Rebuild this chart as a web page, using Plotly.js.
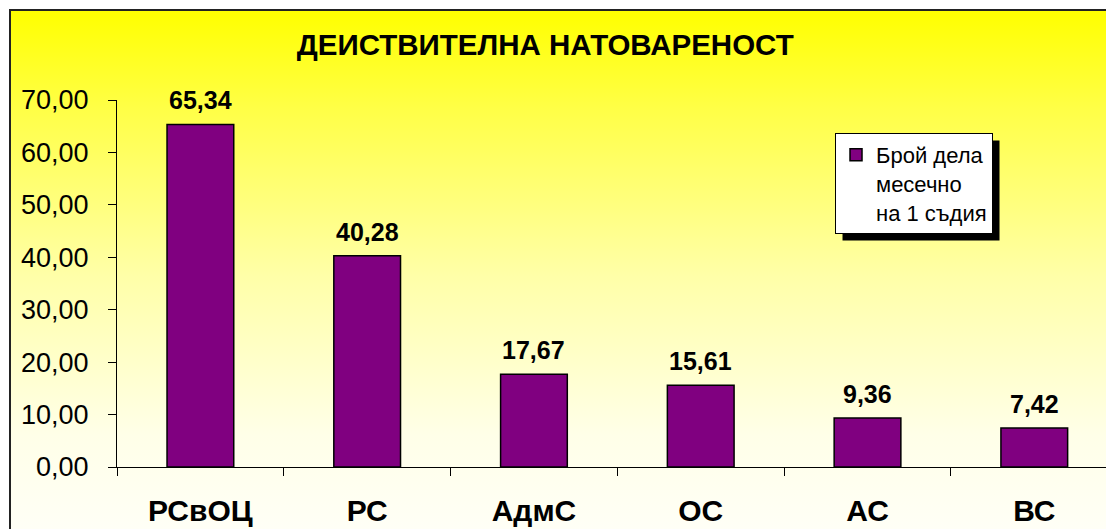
<!DOCTYPE html>
<html><head><meta charset="utf-8">
<script src="https://cdn.plot.ly/plotly-3.0.1.min.js"></script>
<style>
html,body{margin:0;padding:0;background:#fff;width:1106px;height:529px;overflow:hidden}
#bg{position:absolute;left:9px;top:9px;width:1200px;height:530px;border-left:2px solid #222;border-top:2px solid #222;
background:linear-gradient(to bottom,#FFFF00 0%,#FFFF45 18%,#FFFFA8 50%,#FFFFE8 80%,#FFFFF8 100%)}
#chart{position:absolute;left:0;top:0;width:1106px;height:529px}
</style></head>
<body>
<div id="bg"></div>
<div id="chart"></div>
<script>
const categories = ['РСвОЦ','РС','АдмС','ОС','АС','ВС'];
const values = [65.34, 40.28, 17.67, 15.61, 9.36, 7.42];
const seriesName = 'Брой дела<br>месечно<br>на 1 съдия';
const yTickVals = [0,10,20,30,40,50,60,70];
const titleText = 'ДЕИСТВИТЕЛНА НАТОВАРЕНОСТ';

const F = 'Liberation Sans, Arial, sans-serif';

const data = [{
  type:'bar', x:categories, y:values, name:seriesName,
  marker:{color:'#800080', line:{color:'#000', width:1.5}},
  hoverinfo:'skip'
}];

const annotations = categories.map((c,i)=>({
  x:c, y:values[i], xref:'x', yref:'y',
  text: values[i].toFixed(2).replace('.', ','),
  showarrow:false, yanchor:'bottom', yshift:8,
  font:{family:F, size:25, color:'#000', weight:'bold'}
}));

const layout = {
  width:1106, height:529,
  margin:{l:117, r:0, t:100, b:62, pad:0},
  paper_bgcolor:'rgba(0,0,0,0)', plot_bgcolor:'rgba(0,0,0,0)',
  separators:', ',
  title:{text:titleText, x:0.493, xref:'container', xanchor:'center', y:0.915, yref:'container', yanchor:'middle',
         font:{family:F, size:29.5, color:'#000', weight:'bold'}},
  xaxis:{type:'category', range:[-0.5,5.43], showline:true, linecolor:'#000', linewidth:1,
         ticks:'outside', tickson:'boundaries', ticklen:8, tickcolor:'#000',
         tickfont:{family:F, size:30, color:'#000', weight:'bold'}, ticklabelstandoff:17,
         showgrid:false, zeroline:false},
  yaxis:{range:[0,70], tickvals:yTickVals, tickformat:'.2f', showline:true, linecolor:'#000', linewidth:1,
         ticks:'outside', ticklen:8, tickcolor:'#000',
         tickfont:{family:F, size:27, color:'#000'}, ticklabelstandoff:14,
         showgrid:false, zeroline:false},
  bargap:0.6,
  showlegend:true,
  legend:{x:0.726, y:0.91, xanchor:'left', yanchor:'top', valign:'top', bgcolor:'#fff', bordercolor:'#000', borderwidth:1,
          itemwidth:30, font:{family:F, size:22, color:'#000'}},
  annotations:annotations
};

Plotly.newPlot('chart', data, layout, {staticPlot:true}).then(gd=>{
  const bg = gd.querySelector('.legend .bg');
  if(!bg) return;
  const r = bg.getBoundingClientRect();
  const g = gd.getBoundingClientRect();
  const s = gd._fullLayout._size;
  const off = 7;
  const px0 = r.left - g.left + off, px1 = r.right - g.left + off;
  const py0 = r.top - g.top + off, py1 = r.bottom - g.top + off;
  const shape = {type:'rect', xref:'paper', yref:'paper',
    x0:(px0 - s.l)/s.w, x1:(px1 - s.l)/s.w,
    y0:1 - (py1 - s.t)/s.h, y1:1 - (py0 - s.t)/s.h,
    fillcolor:'#000', line:{width:0}, layer:'above'};
  return Plotly.relayout(gd, {shapes:[shape]});
});
</script>
</body></html>
